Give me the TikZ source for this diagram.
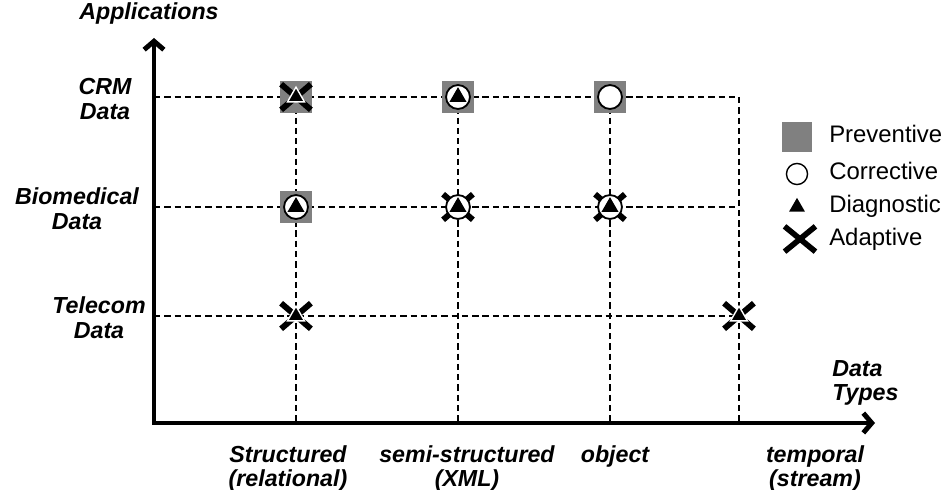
\documentclass[tikz,border=0pt]{standalone}
\usepackage{fontspec}
\setmainfont{Liberation Sans}
\usetikzlibrary{arrows.meta, shapes.geometric, shapes.misc, positioning}

\tikzset{
  axis/.style={line width=3.5pt, line join=miter, {Straight Barb[length=6pt,width=14pt]}-{Straight Barb[length=6pt,width=14pt]}},
  grid/.style={line width=1.6pt, dash pattern=on 4.5pt off 2.8pt},
  lbl/.style={font=\bfseries\itshape\fontsize{16.5}{17.5}\selectfont, align=center, inner sep=0pt},
  leg/.style={font=\fontsize{17}{19}\selectfont, anchor=base west, inner sep=0pt},
  prev/.style={rectangle, fill=gray, minimum size=22.5pt, inner sep=0pt},
  corr/.style={circle, draw, fill=white, line width=1.3pt, minimum size=17pt, inner sep=0pt},
  diag/.style={regular polygon, regular polygon sides=3, fill=black, minimum size=14pt, inner sep=0pt},
  diagw/.style={diag, draw=white, line width=1pt},
  adapt/.style={cross out, draw, line width=4.2pt, minimum width=17pt, minimum height=14pt, inner sep=0pt},
}

\begin{document}
\begin{tikzpicture}[x=0.025cm,y=-0.025cm]
\useasboundingbox (0,0) rectangle (947,490);

% axes
\coordinate (O) at (154,423);
\coordinate (ytip) at (154,38);
\coordinate (xtip) at (875,423);

% grid points
\foreach \r/\y in {crm/97, bio/207, tel/316} {
  \coordinate (\r-ax) at (154,\y);
  \foreach \c/\x in {str/296, semi/458, obj/610, tmp/739}
    \coordinate (\r-\c) at (\x,\y);
}
\foreach \c/\x in {str/296, semi/458, obj/610, tmp/739}
  \coordinate (\c-ax) at (\x,423);

% dashed grid
\foreach \r in {crm, bio, tel}
  \draw[grid] (\r-ax) -- (\r-tmp);
\foreach \c in {str, semi, obj, tmp}
  \draw[grid] (crm-\c) -- (\c-ax);

\draw[axis] (ytip) -- (O) -- (xtip);

% markers
\foreach \p in {crm-str, crm-semi, crm-obj, bio-str}
  \node[prev] (p-\p) at (\p) {};
\foreach \p in {crm-str, bio-semi, bio-obj, tel-str, tel-tmp}
  \node[adapt] (a-\p) at (\p) {};
\foreach \p in {crm-semi, crm-obj, bio-str, bio-semi, bio-obj}
  \node[corr] (c-\p) at (\p) {};
\foreach \p in {crm-semi, bio-str, bio-semi, bio-obj}
  \node[diag] (d-\p) at (\p) {};
\foreach \p in {crm-str, tel-str, tel-tmp}
  \node[diagw] (d-\p) at (\p) {};

% axis labels
\node[lbl] (app) at (149,14) {Applications};
\node[lbl] (crm) at (105,99) {CRM\\Data};
\node[lbl] (bio) at (77,209) {Biomedical\\Data};
\node[lbl] (tel) at (99,318) {Telecom\\Data};
\node[lbl, align=left, anchor=west] (types) at (832,383) {Data\\Types};

\node[lbl, anchor=north] (str) at (288,445) {Structured\\(relational)};
\node[lbl, anchor=north] (semi) at (467,445) {semi-structured\\(XML)};
\node[lbl, anchor=north] (obj) at (615,445) {object};
\node[lbl, anchor=north] (tmp) at (815,445) {temporal\\(stream)};

% legend
\node[prev, minimum size=21pt] (lp) at (797,137) {};
\node[corr, minimum size=15pt, line width=1pt] (lc) at (797,174) {};
\node[diag, minimum size=13pt] (ld) at (797,207) {};
\node[adapt, minimum width=18pt, minimum height=14pt, line width=4pt] (la) at (800,239) {};
\node[leg] (lpt) at (829,143) {Preventive};
\node[leg] (lct) at (829,180) {Corrective};
\node[leg] (ldt) at (829,213) {Diagnostic};
\node[leg] (lat) at (829,246) {Adaptive};
\end{tikzpicture}
\end{document}
